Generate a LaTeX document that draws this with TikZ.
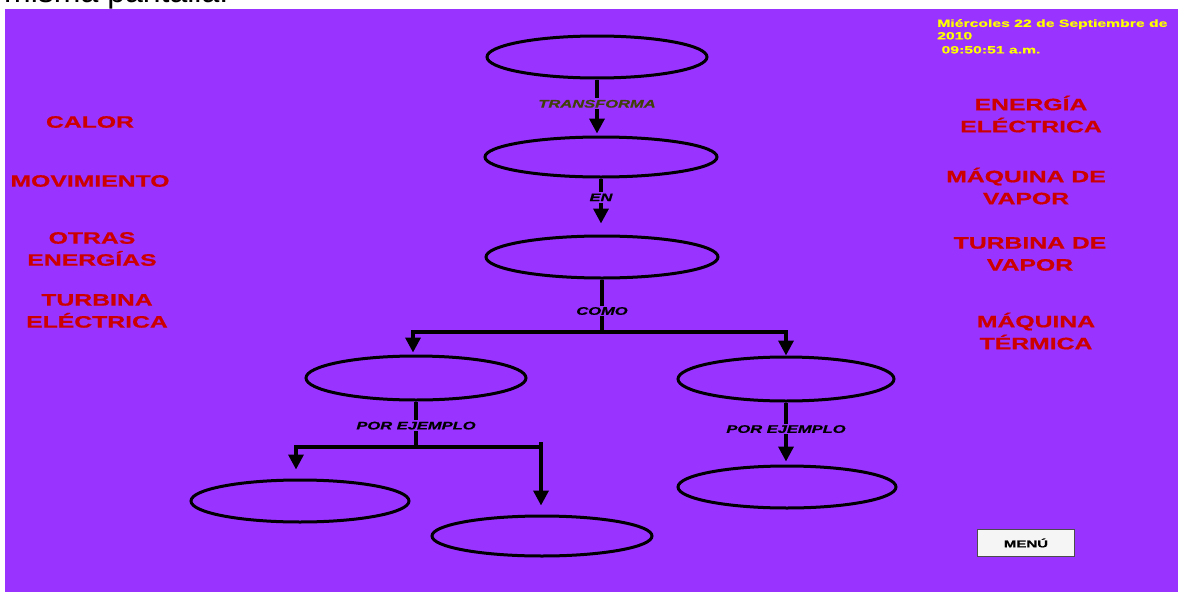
\documentclass[tikz,border=0pt]{standalone}
\usepackage{fontspec}
\setmainfont{Liberation Sans}
\newfontfamily\px[FakeStretch=1.5,FakeBold=0.8]{Liberation Sans}
\usetikzlibrary{shapes.geometric,arrows.meta,calc}
\definecolor{bgpurple}{HTML}{9933FF}
\definecolor{lblred}{HTML}{CC0000}
\definecolor{trcol}{HTML}{404008}
\definecolor{dateyel}{HTML}{FFFF00}
\begin{document}
\begin{tikzpicture}[x=1pt,y=-1pt,
  oval/.style={draw=black,line width=3pt,ellipse,inner sep=0pt},
  ln/.style={line width=3.5pt},
  arr/.style={line width=3.5pt,-{Triangle[width=15pt,length=15pt]}},
  lab/.style={fill=bgpurple,inner sep=1.5pt,font=\px\bfseries\itshape\fontsize{11}{13}\selectfont},
  redlbl/.style={text=lblred,align=center,inner sep=0pt,font=\px\bfseries\fontsize{16.5}{22}\selectfont},
]
\useasboundingbox (0,0) rectangle (1181,597);
\fill[white] (0,0) rectangle (1181,597);
\fill[bgpurple] (5,9) rectangle (1178,592);
\begin{scope}
\clip (0,0) rectangle (1181,9);
\node[anchor=base west,inner sep=0pt,font=\fontsize{32}{36}\selectfont] (cut) at (4,2.5) {misma pantalla.};
\end{scope}

% ellipses
\node[oval,minimum width=220pt,minimum height=42pt] (e1) at (597,57) {};
\node[oval,minimum width=232pt,minimum height=40pt] (e2) at (601,157) {};
\node[oval,minimum width=232pt,minimum height=42pt] (e3) at (602,257) {};
\node[oval,minimum width=220pt,minimum height=44pt] (e4) at (416,378) {};
\node[oval,minimum width=216pt,minimum height=44pt] (e5) at (786,379) {};
\node[oval,minimum width=218pt,minimum height=42pt] (e6) at (300,501) {};
\node[oval,minimum width=220pt,minimum height=40pt] (e7) at (542,536) {};
\node[oval,minimum width=218pt,minimum height=42pt] (e8) at (787,487) {};

% connectors
\draw[arr] (e1.south) -- node[lab,pos=.45,text=trcol]{TRANSFORMA} ($(e1.south |- e2.north)+(0,-2)$);
\draw[arr] (e2.south) -- node[lab,pos=.42]{EN} ($(e2.south |- e3.north)+(0,-11)$);

\coordinate (jc) at (601,332);
\coordinate (jl) at (413,332);
\coordinate (jr) at (786,332);
\draw[ln] (e3.south) -- node[lab,pos=.6]{COMO} (e3.south |- jc);
\draw[ln] ([xshift=-1.75pt]jl) -- ([xshift=1.75pt]jr);
\draw[arr] (jl) -- ($(jl |- e4.north)+(0,-2)$);
\draw[arr] (jr) -- (jr |- e5.north);

\coordinate (kc) at (413,447);
\coordinate (kl) at (296,447);
\coordinate (kr) at (541,447);
\draw[ln] (e4.south) -- node[lab,pos=.53]{POR EJEMPLO} (e4.south |- kc);
\draw[ln] ([xshift=-1.75pt]kl) -- ([xshift=1.75pt]kr);
\draw[arr] (kl) -- ($(kl |- e6.north)+(0,-9)$);
\draw[arr] ($(kr)+(0,-5)$) -- ($(kr |- e7.north)+(0,-9)$);

\draw[arr] (e5.south) -- node[lab,pos=.45]{POR EJEMPLO} ($(e5.south |- e8.north)+(0,-3)$);

% left labels
\node[redlbl] (calor) at (90,122) {CALOR};
\node[redlbl] (mov) at (90,181) {MOVIMIENTO};
\node[redlbl] (otras) at (92,249) {OTRAS\\ENERGÍAS};
\node[redlbl] (turbe) at (97,311) {TURBINA\\ELÉCTRICA};
% right labels
\node[redlbl] (energ) at (1031,114) {ENERGÍA\\ELÉCTRICA};
\node[redlbl] (maqv) at (1026,186) {MÁQUINA DE\\VAPOR};
\node[redlbl] (turbv) at (1030,254) {TURBINA DE\\VAPOR};
\node[redlbl] (maqt) at (1036,331) {MÁQUINA\\TÉRMICA};

% date
\node[anchor=north west,inner sep=0pt,align=left,text=dateyel,font=\px\bfseries\fontsize{10.5}{12.5}\selectfont] (date) at (937,19) {Miércoles 22 de Septiembre de\\2010\\[1.5pt]\ 09:50:51 a.m.};

% menu button
\node[draw=gray!60!black,fill=gray!8,line width=1.5pt,minimum width=97pt,minimum height=27pt,inner sep=0pt,font=\px\bfseries\fontsize{10}{12}\selectfont] (menu) at (1026,543) {MENÚ};
\end{tikzpicture}
\end{document}
